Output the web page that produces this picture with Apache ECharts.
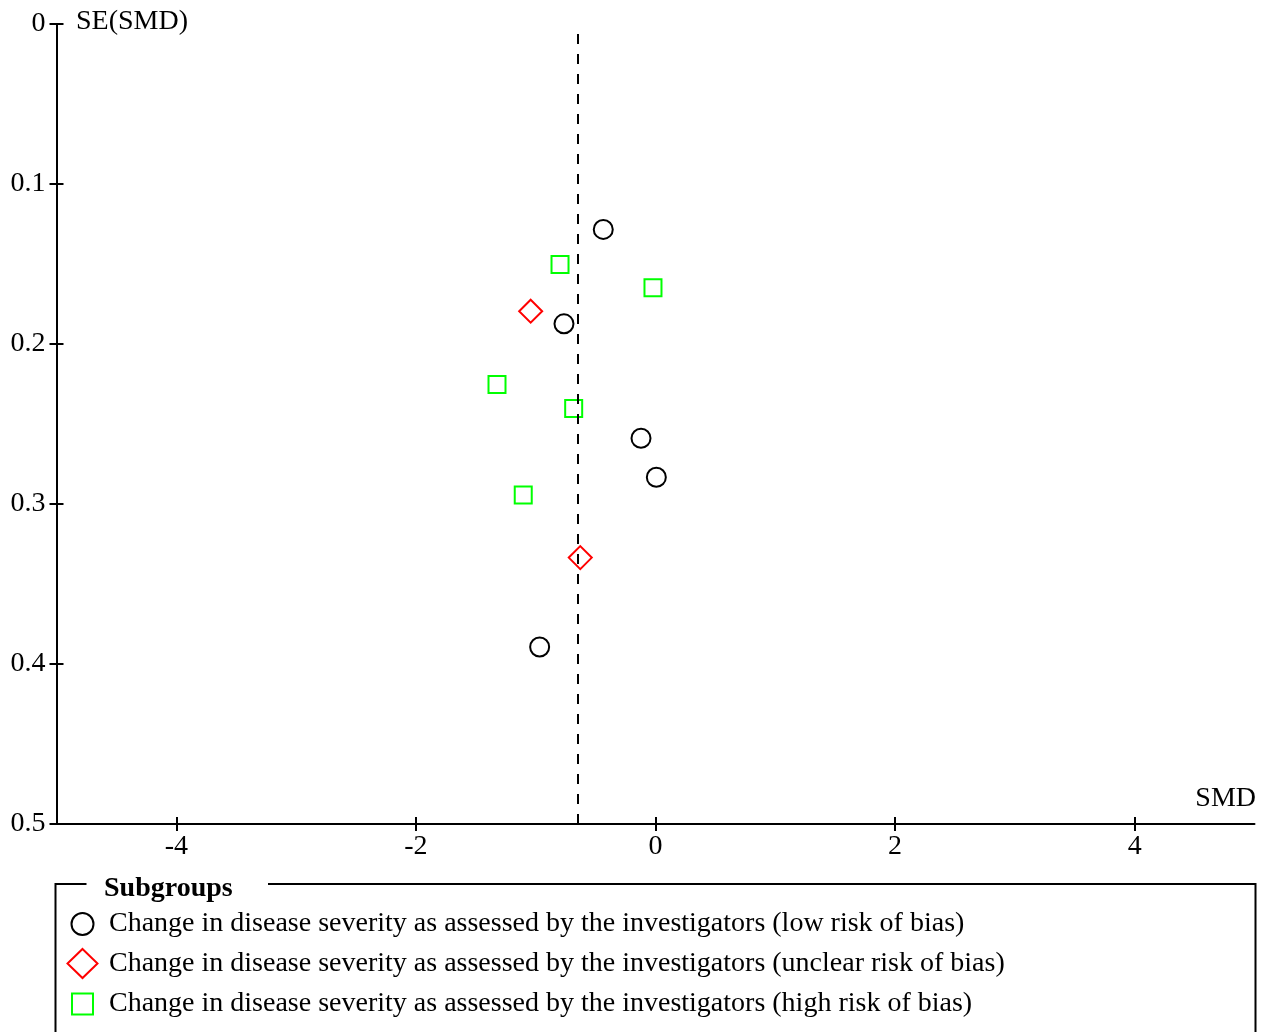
<!DOCTYPE html>
<html><head><meta charset="utf-8">
<script src="https://cdn.jsdelivr.net/npm/echarts@6/dist/echarts.min.js"></script>
<style>html,body{margin:0;padding:0;background:#fff}#c{width:1265px;height:1032px}</style>
</head><body><div id="c"></div>
<script>
const seriesNames = [
  'Change in disease severity as assessed by the investigators (low risk of bias)',
  'Change in disease severity as assessed by the investigators (unclear risk of bias)',
  'Change in disease severity as assessed by the investigators (high risk of bias)'
];
// [SMD, SE(SMD)]
const lowRisk = [[-0.436, 0.1284], [-0.764, 0.1874], [-0.121, 0.2589], [0.007, 0.2833], [-0.967, 0.3894]];
const unclearRisk = [[-1.042, 0.1795], [-0.628, 0.3335]];
const highRisk = [[-0.797, 0.1503], [-0.021, 0.1649], [-1.323, 0.2253], [-0.683, 0.2403], [-1.104, 0.2944]];
const pooledSMD = -0.647;
const pooledLineTop = 0.0063;
const xTicks = [-4, -2, 0, 2, 4];
const yTicks = [0, 0.1, 0.2, 0.3, 0.4, 0.5];

const FONT = '"Liberation Serif", "Times New Roman", serif';
const FS = 28;
const chart = echarts.init(document.getElementById('c'));
const gridL = 56.5, gridR = 10.5, gridT = 24, gridB = 208;

function xAxisCfg(inside, show) {
  return {
    type: 'value', min: -5, max: 5, interval: 1, gridIndex: 0, position: 'bottom',
    axisLine: { show: show, onZero: false, lineStyle: { color: '#000', width: 2 } },
    axisTick: { show: true, inside: inside, length: 7, lineStyle: { color: '#000', width: 2 },
      customValues: xTicks },
    axisLabel: { show: show, margin: 9, fontFamily: FONT, fontSize: FS, color: '#000',
      customValues: xTicks, formatter: v => String(v) },
    splitLine: { show: false }
  };
}
function yAxisCfg(inside, show) {
  return {
    type: 'value', min: 0, max: 0.5, interval: 0.1, inverse: true, gridIndex: 0, position: 'left',
    axisLine: { show: show, onZero: false, lineStyle: { color: '#000', width: 2 } },
    axisTick: { show: true, inside: inside, length: 7, lineStyle: { color: '#000', width: 2 },
      customValues: yTicks },
    axisLabel: { show: show, margin: 11, fontFamily: FONT, fontSize: FS, color: '#000',
      customValues: yTicks, formatter: v => String(+v.toFixed(1)) },
    splitLine: { show: false }
  };
}

const legendBase = (name, icon, w, h, cy) => ({
  data: [{ name: name, icon: icon }],
  left: 81.5 - w / 2, top: cy - 14,
  itemWidth: w, itemHeight: h, itemGap: 0, padding: 0,
  selectedMode: false,
  textStyle: { fontFamily: FONT, fontSize: FS, color: '#000', padding: [0, 0, 0, 108 - (81.5 + w / 2) - 5], lineHeight: 28 }
});

chart.setOption({
  animation: false,
  backgroundColor: '#fff',
  grid: { left: gridL, right: gridR, top: gridT, bottom: gridB, containLabel: false },
  xAxis: [xAxisCfg(false, true), xAxisCfg(true, false)],
  yAxis: [yAxisCfg(false, true), yAxisCfg(true, false)],
  legend: [
    legendBase(seriesNames[0], 'circle', 22, 22, 924),
    legendBase(seriesNames[1], 'diamond', 30, 29, 962),
    legendBase(seriesNames[2], 'rect', 21, 21, 1004)
  ],
  series: [
    { name: seriesNames[0], type: 'scatter', data: lowRisk, symbol: 'circle', symbolSize: 19,
      itemStyle: { color: 'rgba(0,0,0,0)', borderColor: '#000', borderWidth: 2, opacity: 1 },
      markLine: {
        silent: true, symbol: 'none', label: { show: false },
        lineStyle: { color: '#000', width: 2, type: [10, 10] },
        data: [[{ coord: [pooledSMD, pooledLineTop] }, { coord: [pooledSMD, 0.5] }]]
      }
    },
    { name: seriesNames[1], type: 'scatter', data: unclearRisk, symbol: 'diamond', symbolSize: [23, 23],
      itemStyle: { color: 'rgba(0,0,0,0)', borderColor: '#ff0000', borderWidth: 2, opacity: 1 } },
    { name: seriesNames[2], type: 'scatter', data: highRisk, symbol: 'rect', symbolSize: 17,
      itemStyle: { color: 'rgba(0,0,0,0)', borderColor: '#00ff00', borderWidth: 2, opacity: 1 } }
  ],
  graphic: [
    { type: 'text', left: 76, top: 8, style: { text: 'SE(SMD)', font: FS + 'px ' + FONT, fill: '#000' } },
    { type: 'text', right: 9, top: 785, style: { text: 'SMD', font: FS + 'px ' + FONT, fill: '#000' } },
    { type: 'polyline', shape: { points: [[86.5, 884], [55.5, 884], [55.5, 1040]] },
      style: { stroke: '#000', lineWidth: 2, fill: null } },
    { type: 'polyline', shape: { points: [[268, 884], [1255.5, 884], [1255.5, 1040]] },
      style: { stroke: '#000', lineWidth: 2, fill: null } },
    { type: 'text', left: 104, top: 875, style: { text: 'Subgroups', font: 'bold ' + FS + 'px ' + FONT, fill: '#000' } }
  ]
});
</script></body></html>
